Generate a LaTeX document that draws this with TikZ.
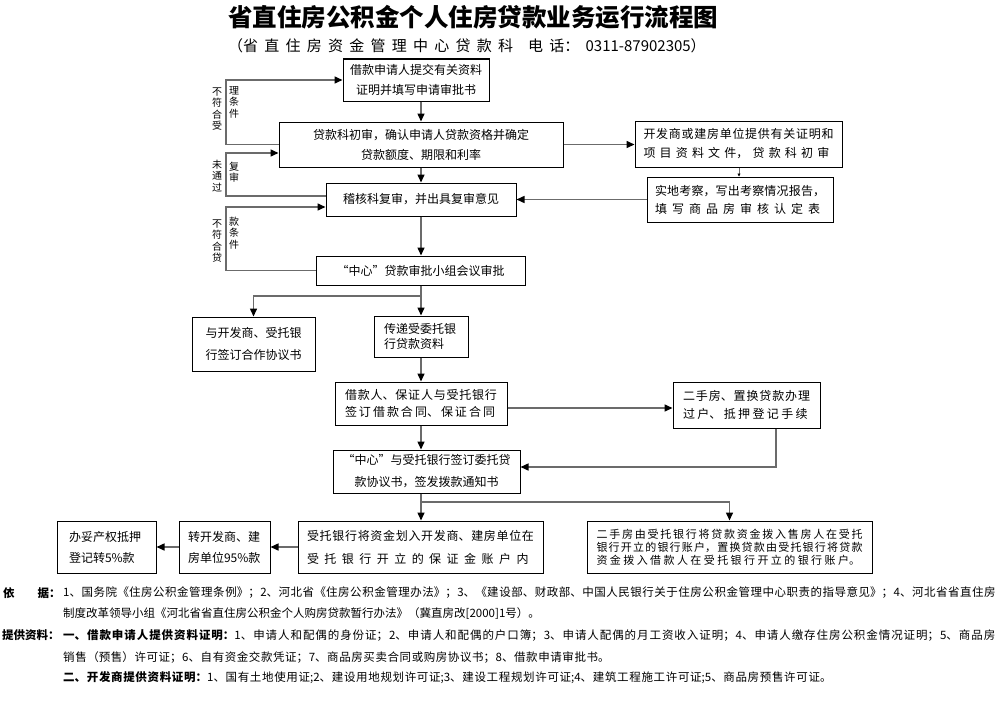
\documentclass[tikz,border=0pt]{standalone}
\usepackage{fontspec}
\setmainfont{Noto Sans CJK SC}
\usetikzlibrary{arrows.meta}
\newcommand\spreadset{\XeTeXlinebreaklocale "zh"\XeTeXlinebreakskip=0pt plus 1fil\relax}
\newcommand\SP{\spreadset\parfillskip=0pt\relax}
\newcommand\SPL{\spreadset\parfillskip=0pt plus 1fill\relax}
\newcommand\ftf{\fontsize{11.5pt}{14pt}\selectfont}
\tikzset{
  bx/.style={draw=black, line width=1pt, inner sep=0pt, align=center, font=\fontsize{12pt}{#1}\selectfont},
  bx/.default=20pt,
  conn/.style={draw=black!58, line width=1.5pt},
  arr/.style={conn, -{Triangle[length=8pt,width=7pt,color=black]}},
  lbl/.style={font=\fontsize{10pt}{11.5pt}\selectfont, align=center, inner sep=0pt},
  fl/.style={text width=#1, align=justify, inner sep=0pt, font=\ftf, anchor=west},
  fn/.style={inner sep=0pt, font=\ftf, anchor=west},
}
\begin{document}
\begin{tikzpicture}[x=1pt,y=-1pt]
\fill[white] (0,0) rectangle (1000,701);
\useasboundingbox (0,0) rectangle (1000,701);

% title
\node[font=\fontsize{24.5pt}{28pt}\selectfont\bfseries, inner sep=0pt] (title) at (473,17) {省直住房公积金个人住房贷款业务运行流程图};
\node[font=\fontsize{15pt}{18pt}\selectfont, text width=484pt, align=justify, inner sep=0pt] (sub) at (470,46) {\SP （省直住房资金管理中心贷款科\hspace{1em}电话：0311-87902305）};

% boxes
\node[bx=20pt, minimum width=146pt, minimum height=42pt] (B1) at (416,80) {借款申请人提交有关资料\\证明并填写申请审批书};
\node[bx=20pt, minimum width=284pt, minimum height=45pt] (B2) at (421,144.5) {贷款科初审，确认申请人贷款资格并确定\\贷款额度、期限和利率};
\node[bx=19pt, minimum width=207pt, minimum height=46pt, text width=190pt, align=justify] (B3) at (738.5,144) {\SP 开发商或建房单位提供有关证明和\linebreak 项目资料文件，贷款科初审};
\node[bx=18pt, minimum width=186pt, minimum height=45pt, text width=170pt, align=justify] (B4) at (740,199.5) {\SP 实地考察，写出考察情况报告，\linebreak 填写商品房审核认定表};
\node[bx, minimum width=190pt, minimum height=33pt] (B5) at (421,199.5) {稽核科复审，并出具复审意见};
\node[bx, minimum width=209pt, minimum height=29pt] (B6) at (420.5,270.5) {“中心”贷款审批小组会议审批};
\node[bx=22pt, minimum width=123pt, minimum height=54pt] (B7) at (253.5,344) {与开发商、受托银\\行签订合作协议书};
\node[bx=15pt, minimum width=94pt, minimum height=41pt, text width=74pt, align=left] (B8) at (421,336.5) {传递受委托银\\行贷款资料};
\node[bx=17pt, minimum width=172pt, minimum height=43pt, text width=152pt, align=justify] (B9) at (421,403.5) {\SP 借款人、保证人与受托银行\linebreak 签订借款合同、保证合同};
\node[bx=18pt, minimum width=147pt, minimum height=46pt, text width=127pt, align=justify] (B10) at (746.5,405) {\SP 二手房、置换贷款办理\linebreak 过户、抵押登记手续};
\node[bx=22pt, minimum width=187pt, minimum height=43pt] (B11) at (426.5,471.5) {“中心”与受托银行签订委托贷\\款协议书，签发拨款通知书};
\node[bx=23pt, minimum width=245pt, minimum height=52pt, text width=227pt, align=justify] (B12) at (420.5,547) {\SP 受托银行将资金划入开发商、建房单位在\linebreak 受托银行开立的保证金账户内};
\node[bx=21pt, minimum width=91pt, minimum height=52pt, text width=73pt, align=left] (B13) at (224.5,547) {转开发商、建\\房单位95\%款};
\node[bx=21pt, minimum width=99pt, minimum height=52pt, text width=75pt, align=left] (B14) at (106.5,547) {办妥产权抵押\\登记转5\%款};
\node[draw=black, line width=1pt, inner sep=0pt, font=\fontsize{11pt}{13pt}\selectfont, minimum width=285pt, minimum height=52pt, text width=266pt, align=justify] (B15) at (729.5,547) {\SPL 二手房由受托银行将贷款资金拨入售房人在受托\linebreak 银行开立的银行账户，置换贷款由受托银行将贷款\linebreak 资金拨入借款人在受托银行开立的银行账户。};

% helper coordinates
\coordinate (spine) at (421,0);
\coordinate (L) at (226,0);
\coordinate (c739) at (739,0);
\coordinate (c776) at (776,0);
\coordinate (J1) at (421,296);
\coordinate (J2) at (421,502);
\coordinate (p2t) at ([yshift=-8.5pt]B2.west);
\coordinate (p5s) at ([yshift=3.5pt]B5.west);
\coordinate (p5t) at ([yshift=-7.5pt]B5.west);
\coordinate (p9) at ([yshift=-4.5pt]B9.east);
\coordinate (p11) at ([yshift=4.5pt]B11.east);

% main spine
\draw[arr] (B1.south -| spine) -- (B2.north -| spine);
\draw[arr] (B2.south -| spine) -- (B5.north -| spine);
\draw[arr] (B5.south -| spine) -- (B6.north -| spine);
\draw[conn] (B6.south -| J1) -- (J1);
\draw[arr] (J1) -- (B8.north -| J1);
\draw[arr] (J1) -| (B7.north);
\draw[arr] (B8.south -| spine) -- (B9.north -| spine);
\draw[arr] (B9.south -| spine) -- (B11.north -| spine);
\draw[conn] (B11.south -| J2) -- (J2);
\draw[arr] (J2) -- (B12.north -| J2);
\draw[arr] (J2) -| (B15.north);

% side branches
\draw[arr] (B2.east) -- (B2.east -| B3.west);
\draw[draw=black!58, line width=0.8pt, -{Triangle[length=3pt,width=3pt,color=black]}] (B3.south -| c739) -- (B4.north -| c739);
\draw[arr] (B4.west) -- (B5.east);
\draw[arr] (p9) -- (p9 -| B10.west);
\draw[arr] (B10.south -| c776) |- (p11);
\draw[arr] (B12.west) -- (B13.east);
\draw[arr] (B13.west) -- (B14.east);

% feedback loops
\draw[arr] (B2.west) -- (B2.west -| L) |- (B1.west);
\draw[arr] (p5s) -- (p5s -| L) |- (p2t);
\draw[arr] (B6.west) -- (B6.west -| L) |- (p5t);
\node[lbl] (l1a) at (217,109) {不\\符\\合\\受};
\node[lbl] (l1b) at (234,102) {理\\条\\件};
\node[lbl] (l2a) at (217,176) {未\\通\\过};
\node[lbl] (l2b) at (234,172) {复\\审};
\node[lbl] (l3a) at (217,241) {不\\符\\合\\贷};
\node[lbl] (l3b) at (234,233) {款\\条\\件};

% footer
\node[fn, font=\ftf\bfseries] (yj) at (3,593) {依\hspace{2em}据：};
\node[fl=933pt] (f1) at (63,593) {\SP 1、国务院《住房公积金管理条例》；2、河北省《住房公积金管理办法》；3、《建设部、财政部、中国人民银行关于住房公积金管理中心职责的指导意见》；4、河北省省直住房};
\node[fn] (f2) at (63,614) {制度改革领导小组《河北省省直住房公积金个人购房贷款暂行办法》（冀直房改[2000]1号）。};
\node[fn, font=\ftf\bfseries] (tg) at (2,635) {提供资料：};
\node[fl=933pt] (f3) at (63,635) {\SP \textbf{一、借款申请人提供资料证明：}1、申请人和配偶的身份证；2、申请人和配偶的户口簿；3、申请人配偶的月工资收入证明；4、申请人缴存住房公积金情况证明；5、商品房};
\node[fl=547pt] (f4) at (63,657) {\SP 销售（预售）许可证；6、自有资金交款凭证；7、商品房买卖合同或购房协议书；8、借款申请审批书。};
\node[fl=769pt] (f5) at (63,678) {\SP \textbf{二、开发商提供资料证明：}1、国有土地使用证;2、建设用地规划许可证;3、建设工程规划许可证;4、建筑工程施工许可证;5、商品房预售许可证。};
\end{tikzpicture}
\end{document}
